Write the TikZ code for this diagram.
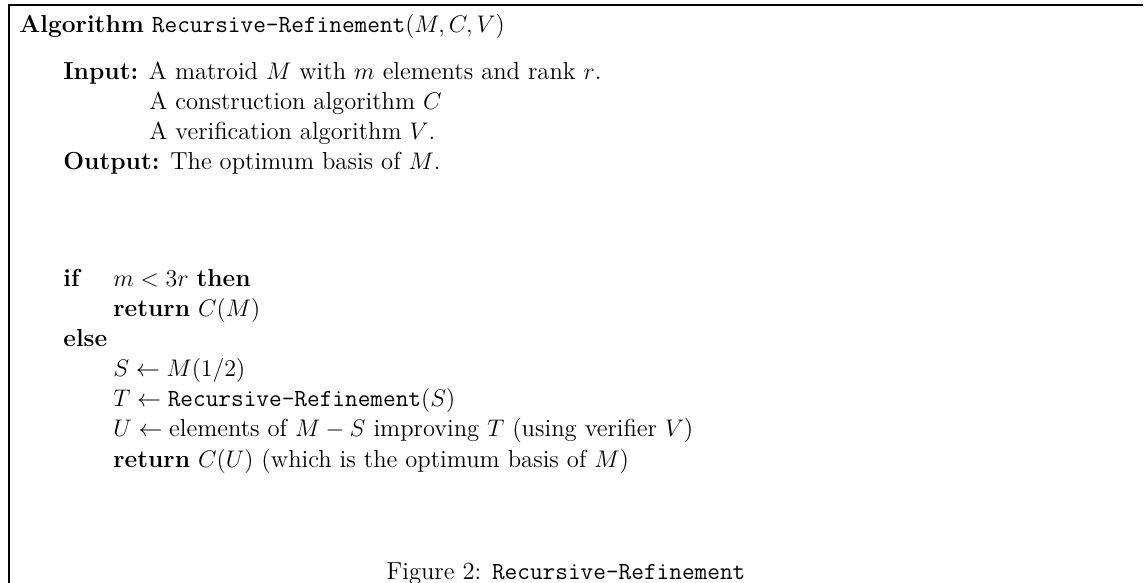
\documentclass[tikz,border=0pt]{standalone}
\begin{document}
\begin{tikzpicture}[x=0.5pt,y=-0.5pt,
  txt/.style={anchor=base west, inner sep=0pt, font=\fontsize{12.3}{14.8}\selectfont},
  frame/.style={line width=1.3pt}]
\useasboundingbox (0,0) rectangle (1148,583);
\coordinate (tr) at (1143,5);
\coordinate (tl) at (9,5);
\coordinate (bl) at (9,583);
\draw[frame] (tr) -- (tl) -- (bl);
\node[txt] (title) at (19,33) {\textbf{Algorithm} \texttt{Recursive-Refinement}$(M,C,V)$};
\node[txt] (in1) at (63,80) {\textbf{Input:} A matroid $M$ with $m$ elements and rank $r$.};
\node[txt] (in2) at (149,110) {A construction algorithm $C$};
\node[txt] (in3) at (149,140) {A verification algorithm $V$.};
\node[txt] (out) at (63,170) {\textbf{Output:} The optimum basis of $M$.};
\node[txt] (if) at (63,287) {\textbf{if}};
\node[txt] (cond) at (113,287) {$m<3r$ \textbf{then}};
\node[txt] (ret1) at (113,317) {\textbf{return} $C(M)$};
\node[txt] (else) at (63,347) {\textbf{else}};
\node[txt] (s) at (113,377) {$S\leftarrow M(1/2)$};
\node[txt] (t) at (113,407) {$T\leftarrow{}$\texttt{Recursive-Refinement}$(S)$};
\node[txt] (u) at (113,437) {$U\leftarrow{}$elements of $M-S$ improving $T$ (using verifier $V$)};
\node[txt] (ret2) at (113,467) {\textbf{return} $C(U)$ (which is the optimum basis of $M$)};
\node[anchor=base, inner sep=0pt, font=\fontsize{12.3}{14.8}\selectfont] (cap) at (566,579) {Figure 2: \texttt{Recursive-Refinement}};
\end{tikzpicture}
\end{document}
